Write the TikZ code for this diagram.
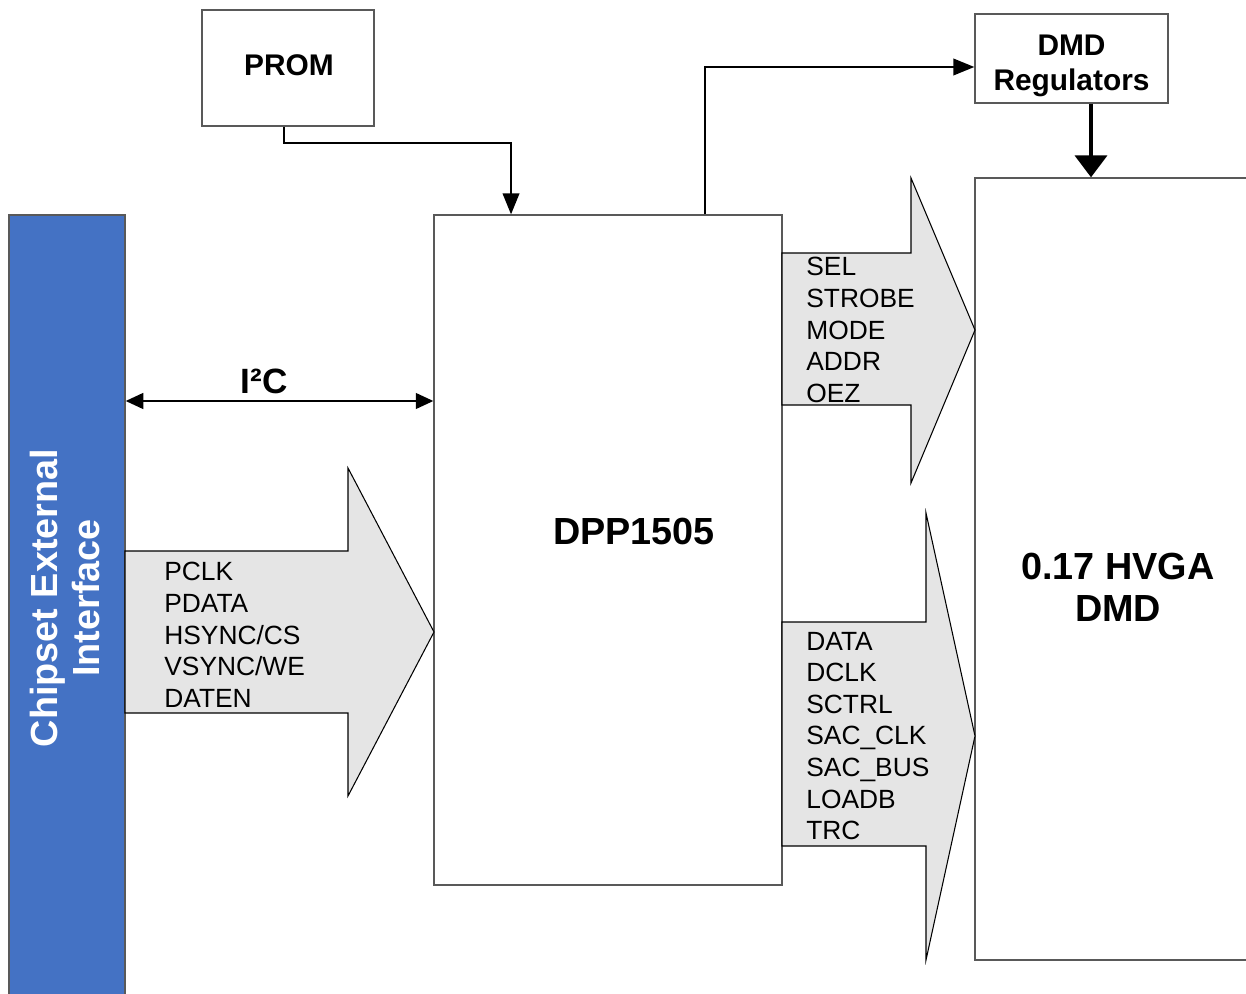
\documentclass[tikz,border=0pt]{standalone}
\usepackage{fontspec}
\setmainfont{Liberation Sans}
\usepackage{xcolor}
\usepackage{tikz}
\usetikzlibrary{arrows.meta,positioning}
\definecolor{extblue}{RGB}{68,114,196}

\begin{document}
\begin{tikzpicture}[x=0.02cm,y=-0.02cm,
box/.style={draw=black!65,line width=0.8pt,fill=white,inner sep=0pt},
boxtxt/.style={font=\fontsize{17}{20}\selectfont\bfseries,align=center},
bigtxt/.style={font=\fontsize{21.5}{24}\selectfont\bfseries,align=center},
sig/.style={font=\fontsize{15}{18}\selectfont,align=left,anchor=west,inner sep=0pt},
bus/.style={draw=black,line width=0.6pt,fill=black!10},
conn/.style={-{Triangle[length=12pt,width=9.5pt]},line width=1.1pt},
power/.style={-{Triangle[length=12.5pt,width=18pt]},line width=2.8pt},
twoway/.style={{Triangle[length=10pt,width=9pt]}-{Triangle[length=10pt,width=9pt]},line width=1.1pt}]
\useasboundingbox (0,0) rectangle (1246,993);
% blocks
\node[box,fill=extblue,minimum width=2.32cm,minimum height=15.8cm] (ext) at (67,610) {};
\node[bigtxt,text=white,rotate=90] (exttxt) at (65,598) {Chipset External\\Interface};
\node[box,minimum width=3.44cm,minimum height=2.32cm] (prom) at (288,68) {};
\node[boxtxt] (promtxt) at (289,65) {PROM};
\node[box,minimum width=3.86cm,minimum height=1.78cm] (reg) at (1071.5,58.5) {};
\node[boxtxt] (regtxt) at (1071.5,66) {DMD\\Regulators};
\node[box,minimum width=6.96cm,minimum height=13.4cm] (dpp) at (608,550) {};
\node[bigtxt] (dpptxt) at (634,531) {DPP1505};
\node[box,minimum width=5.7cm,minimum height=15.64cm] (dmd) at (1117.5,569) {};
\node[bigtxt] (dmdtxt) at (1118,587) {0.17 HVGA\\DMD};
% buses
\draw[bus](125,551)--(348,551)--(348,468)--(434,632)--(348,796)--(348,713)--(125,713)--cycle;
\draw[bus](782,253)--(911,253)--(911,178)--(975,330)--(911,483)--(911,405)--(782,405)--cycle;
\draw[bus](782,622)--(926,622)--(926,513)--(975,736)--(926,960)--(926,846)--(782,846)--cycle;
\node[sig] (insig) at (164,635) {PCLK\\PDATA\\HSYNC/CS\\VSYNC/WE\\DATEN};
\node[sig] (ctlsig) at (806,330) {SEL\\STROBE\\MODE\\ADDR\\OEZ};
\node[sig] (datsig) at (806,736) {DATA\\DCLK\\SCTRL\\SAC\_CLK\\SAC\_BUS\\LOADB\\TRC};
% links
\coordinate (i2c) at (280,401);
\draw[twoway](ext.east|-i2c)--(dpp.west|-i2c)node[pos=0.45,above,boxtxt,font=\fontsize{20}{22}\selectfont\bfseries]{I²C};
\draw[conn]([xshift=-0.08cm]prom.south)--++(0,16)-|([xshift=-1.94cm]dpp.north);
\draw[conn]([xshift=1.94cm]dpp.north)|-([yshift=-0.17cm]reg.west);
\draw[power]([xshift=0.39cm]reg.south)--([xshift=0.39cm]reg.south|-dmd.north);
\end{tikzpicture}
\end{document}
